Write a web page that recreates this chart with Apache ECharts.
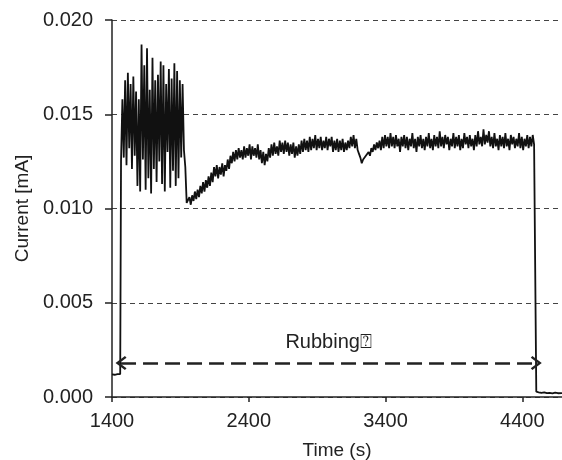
<!DOCTYPE html>
<html><head><meta charset="utf-8">
<script src="https://cdn.jsdelivr.net/npm/echarts@6/dist/echarts.min.js"></script>
<style>html,body{margin:0;padding:0;background:#fff}#c{width:562px;height:460px}</style>
</head><body><div id="c"></div>
<script>
// Baseline before rubbing
const baseTimes = [1400, 1420, 1440, 1460, 1465];
const baseVals = [0.00120, 0.00118, 0.00121, 0.00122, 0.00125];
// Early unstable phase, sampled every 10 s starting at 1466 s
const earlyStart = 1466, earlyStep = 10;
const earlyVals = [0.0125,0.0158,0.0127,0.0168,0.0123,0.0172,0.0132,0.0166,0.0121,0.0170,
  0.0128,0.0162,0.0112,0.0158,0.0109,0.0187,0.0126,0.0176,0.0110,0.0185,
  0.0116,0.0163,0.0108,0.0180,0.0121,0.0168,0.0114,0.0171,0.0125,0.0178,
  0.0113,0.0176,0.0109,0.0166,0.0130,0.0174,0.0111,0.0169,0.0120,0.0177,
  0.0112,0.0173,0.0116,0.0168,0.0127,0.0166,0.0131,0.0122,0.0103];
// Steady phase, sampled every 10 s starting at 1956 s
const steadyStart = 1956, steadyStep = 10;
const steadyVals = [
  0.0103,0.0106,0.0102,0.0107,0.0104,0.0109,0.0105,0.0110,0.0106,0.0112,
  0.0108,0.0114,0.0109,0.0115,0.0111,0.0117,0.0112,0.0119,0.0114,0.0122,
  0.0117,0.0123,0.0116,0.0122,0.0118,0.0124,0.0117,0.0123,0.0120,0.0126,
  0.0121,0.0128,0.0124,0.0130,0.0125,0.0131,0.0126,0.0132,0.0127,0.0131,
  0.0126,0.0133,0.0127,0.0132,0.0128,0.0134,0.0126,0.0133,0.0128,0.0132,
  0.0127,0.0134,0.0126,0.0131,0.0124,0.0130,0.0123,0.0129,0.0125,0.0132,
  0.0127,0.0134,0.0128,0.0135,0.0129,0.0133,0.0128,0.0136,0.0130,0.0135,
  0.0129,0.0136,0.0130,0.0135,0.0128,0.0134,0.0129,0.0135,0.0127,0.0133,
  0.0128,0.0134,0.0129,0.0136,0.0130,0.0137,0.0131,0.0136,0.0130,0.0138,
  0.0131,0.0137,0.0132,0.0139,0.0131,0.0137,0.0132,0.0138,0.0131,0.0136,
  0.0132,0.0138,0.0131,0.0137,0.0133,0.0138,0.0130,0.0136,0.0131,0.0137,
  0.0130,0.0136,0.0131,0.0137,0.0130,0.0135,0.0131,0.0136,0.0132,0.0138,
  0.0133,0.0139,0.0132,0.0137,0.0131,0.0129,0.0127,0.0124,0.0126,0.0125,
  0.0128,0.0127,0.0130,0.0128,0.0132,0.0130,0.0134,0.0131,0.0135,0.0132,
  0.0136,0.0131,0.0138,0.0132,0.0139,0.0133,0.0138,0.0132,0.0140,0.0133,
  0.0138,0.0132,0.0139,0.0133,0.0137,0.0130,0.0138,0.0133,0.0139,0.0132,
  0.0138,0.0131,0.0137,0.0133,0.0140,0.0132,0.0137,0.0130,0.0138,0.0133,
  0.0139,0.0132,0.0137,0.0131,0.0138,0.0133,0.0140,0.0132,0.0137,0.0131,
  0.0139,0.0133,0.0138,0.0132,0.0141,0.0133,0.0138,0.0132,0.0139,0.0134,
  0.0138,0.0131,0.0137,0.0133,0.0140,0.0132,0.0138,0.0133,0.0139,0.0131,
  0.0137,0.0132,0.0140,0.0134,0.0138,0.0132,0.0139,0.0133,0.0137,0.0131,
  0.0139,0.0133,0.0141,0.0134,0.0138,0.0133,0.0142,0.0134,0.0139,0.0135,
  0.0141,0.0133,0.0138,0.0132,0.0140,0.0133,0.0137,0.0131,0.0139,0.0133,
  0.0138,0.0132,0.0140,0.0133,0.0137,0.0131,0.0139,0.0134,0.0138,0.0132,
  0.0137,0.0133,0.0140,0.0132,0.0138,0.0131,0.0137,0.0133,0.0139,0.0132,
  0.0138,0.0133,0.0139,0.0134,0.0133];
// After rubbing stops
const tailTimes = [4502, 4520, 4540, 4560, 4580, 4600, 4620, 4640, 4660, 4690];
const tailVals = [0.00028, 0.00025, 0.00022, 0.00024, 0.00020, 0.00022, 0.00019, 0.00023, 0.00020, 0.00021];
// Annotation
const rubbingStart = 1466, rubbingEnd = 4502, rubbingLevel = 0.0018;
const rubbingLabel = 'Rubbing\u2370';
// Axes
const xMin = 1400, xMax = 4690, xStep = 1000;
const yMin = 0, yMax = 0.020, yStep = 0.005;

const data = [];
baseTimes.forEach((t, i) => data.push([t, baseVals[i]]));
earlyVals.forEach((v, i) => data.push([earlyStart + i * earlyStep, v]));
steadyVals.forEach((v, i) => data.push([steadyStart + i * steadyStep, v]));
tailTimes.forEach((t, i) => data.push([t, tailVals[i]]));

const font = "'Liberation Sans', Arial, sans-serif";
const txt = '#222';
const chart = echarts.init(document.getElementById('c'), null, {renderer: 'canvas'});
const arrowPath = 'path://M10,0 L20,12 L17.5,14 L10,5 L2.5,14 L0,12 Z';
chart.setOption({
  animation: false,
  grid: {left: 112, right: 0, top: 20, bottom: 63, containLabel: false, outerBoundsMode: 'none'},
  xAxis: {
    type: 'value', min: xMin, max: xMax, interval: xStep,
    name: 'Time (s)', nameLocation: 'middle', nameGap: 44,
    nameTextStyle: {fontFamily: font, fontSize: 19, color: txt},
    axisLine: {show: true, onZero: false, lineStyle: {color: '#222', width: 1.5}},
    axisTick: {show: true, inside: false, length: 5, lineStyle: {color: '#222', width: 1.5}},
    axisLabel: {fontFamily: font, fontSize: 20, color: txt, margin: 14, showMaxLabel: false,
      formatter: v => String(v)},
    splitLine: {show: false}
  },
  yAxis: {
    type: 'value', min: yMin, max: yMax, interval: yStep,
    name: 'Current [mA]', nameLocation: 'middle', nameGap: 80,
    nameTextStyle: {fontFamily: font, fontSize: 19, color: txt},
    axisLine: {show: true, lineStyle: {color: '#222', width: 1.5}},
    axisTick: {show: true, inside: false, length: 7, lineStyle: {color: '#222', width: 1.5}},
    axisLabel: {fontFamily: font, fontSize: 20, color: txt, margin: 19,
      formatter: v => v.toFixed(3)},
    splitLine: {show: true, lineStyle: {color: '#444', width: 1, type: [5, 4]}}
  },
  series: [{
    type: 'line', data: data, showSymbol: false, symbol: 'none',
    lineStyle: {color: '#111', width: 1.8}, z: 3,
    markLine: {
      silent: true, animation: false,
      symbol: [arrowPath, arrowPath],
      symbolSize: [14, 11],
      lineStyle: {color: '#222', width: 2.5, type: [15, 7]},
      label: {show: true, position: 'middle', formatter: rubbingLabel, distance: 11,
        fontFamily: font, fontSize: 20, color: txt},
      data: [[{coord: [rubbingStart, rubbingLevel]}, {coord: [rubbingEnd, rubbingLevel]}]]
    }
  }]
});
</script></body></html>
